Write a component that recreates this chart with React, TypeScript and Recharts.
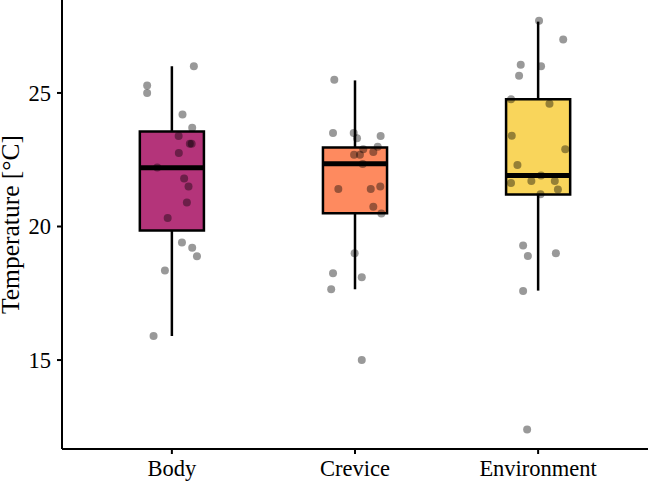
import React from "react";
import {
  ComposedChart,
  Scatter,
  XAxis,
  YAxis,
  ReferenceArea,
  ReferenceLine,
} from "recharts";

const categories = ["Body", "Crevice", "Environment"];
const boxColors = ["#B4347A", "#FE8A5F", "#F9D55B"];

// box stats per category
const whiskerLow = [15.9, 17.65, 17.6];
const boxLow = [19.85, 20.5, 21.2];
const medians = [22.2, 22.35, 21.91];
const boxHigh = [23.56, 22.96, 24.76];
const whiskerHigh = [26.0, 25.47, 27.67];

// raw observations and their horizontal jitter (category units)
const bodyTemps = [26.0, 25.28, 25.0, 24.19, 23.7, 23.39, 23.1, 23.1, 22.75, 22.21, 21.8, 21.5, 20.9, 20.32, 19.4, 19.2, 18.89, 18.35, 15.9];
const bodyJitter = [0.12, -0.135, -0.135, 0.058, 0.111, 0.037, 0.098, 0.108, 0.038, -0.08, 0.067, 0.091, 0.082, -0.023, 0.055, 0.111, 0.137, -0.038, -0.1];

const creviceTemps = [25.49, 23.5, 23.5, 23.3, 23.39, 22.99, 22.89, 22.79, 22.69, 22.69, 22.34, 21.4, 21.4, 21.5, 20.74, 20.49, 19.0, 18.25, 18.1, 17.65, 15.0];
const creviceJitter = [-0.113, -0.12, -0.007, 0.011, 0.14, 0.124, 0.045, 0.1, -0.005, 0.027, 0.042, -0.091, 0.086, 0.138, 0.1, 0.144, -0.002, -0.12, 0.037, -0.13, 0.037];

const envTemps = [27.7, 27.0, 26.06, 26.0, 25.64, 24.76, 24.6, 23.4, 22.89, 22.3, 21.91, 21.63, 21.7, 21.7, 21.39, 21.21, 19.29, 19.0, 18.9, 17.59, 12.4];
const envJitter = [0.005, 0.137, -0.095, 0.016, -0.104, -0.148, 0.062, -0.144, 0.148, -0.113, 0.016, -0.148, -0.037, 0.091, 0.108, 0.013, -0.082, 0.097, -0.056, -0.082, -0.06];

const yTicks = [15, 20, 25];

const HALF = 0.175;

const groups = [
  { temps: bodyTemps, jitter: bodyJitter },
  { temps: creviceTemps, jitter: creviceJitter },
  { temps: envTemps, jitter: envJitter },
];

const points = groups.flatMap((g, i) =>
  g.temps.map((t, j) => ({ x: i + 1 + g.jitter[j], y: t }))
);

const font = "'Liberation Serif', 'Times New Roman', serif";

const YLabel = (props: any) => {
  const vb = props.viewBox || {};
  const cy = (vb.y ?? 0) + (vb.height ?? 0) / 2;
  return (
    <text
      x={19}
      y={cy}
      transform={`rotate(-90, 19, ${cy})`}
      textAnchor="middle"
      fontSize={25.5}
      fontFamily={font}
      fill="#000"
    >
      Temperature [°C]
    </text>
  );
};

const Dot = (props: any) => (
  <circle cx={props.cx} cy={props.cy} r={4} fill="#000" fillOpacity={0.4} />
);

export default function App() {
  return (
    <div style={{ position: "absolute", left: 0, top: 0, background: "#fff" }}>
      <ComposedChart
        width={649}
        height={481}
        margin={{ top: 0, right: 1, bottom: 0, left: 0 }}
      >
        <XAxis
          type="number"
          dataKey="x"
          domain={[0.4, 3.6]}
          ticks={[1, 2, 3]}
          allowDataOverflow
          tickFormatter={(v: number) => categories[Math.round(v) - 1]}
          height={32}
          tickSize={5}
          tickMargin={6}
          axisLine={{ stroke: "#000", strokeWidth: 2 }}
          tickLine={{ stroke: "#000", strokeWidth: 2 }}
          tick={{ fontSize: 22.5, fill: "#000", fontFamily: font }}
        />
        <YAxis
          type="number"
          dataKey="y"
          domain={[11.67, 28.48]}
          ticks={yTicks}
          allowDataOverflow
          width={62}
          tickSize={5}
          tickMargin={6}
          axisLine={{ stroke: "#000", strokeWidth: 2 }}
          tickLine={{ stroke: "#000", strokeWidth: 2 }}
          tick={{ fontSize: 22.5, fill: "#000", fontFamily: font }}
          label={<YLabel />}
        />
        {categories.map((c, i) => (
          <ReferenceLine
            key={`wl-${c}`}
            segment={[
              { x: i + 1, y: whiskerLow[i] },
              { x: i + 1, y: boxLow[i] },
            ]}
            stroke="#000"
            strokeWidth={2.5}
          />
        ))}
        {categories.map((c, i) => (
          <ReferenceLine
            key={`wh-${c}`}
            segment={[
              { x: i + 1, y: boxHigh[i] },
              { x: i + 1, y: whiskerHigh[i] },
            ]}
            stroke="#000"
            strokeWidth={2.5}
          />
        ))}
        {categories.map((c, i) => (
          <ReferenceArea
            key={`box-${c}`}
            x1={i + 1 - HALF}
            x2={i + 1 + HALF}
            y1={boxLow[i]}
            y2={boxHigh[i]}
            fill={boxColors[i]}
            fillOpacity={1}
            stroke="#000"
            strokeWidth={2.5}
          />
        ))}
        {categories.map((c, i) => (
          <ReferenceLine
            key={`med-${c}`}
            segment={[
              { x: i + 1 - HALF, y: medians[i] },
              { x: i + 1 + HALF, y: medians[i] },
            ]}
            stroke="#000"
            strokeWidth={5}
          />
        ))}
        <Scatter data={points} shape={<Dot />} isAnimationActive={false} />
      </ComposedChart>
    </div>
  );
}
